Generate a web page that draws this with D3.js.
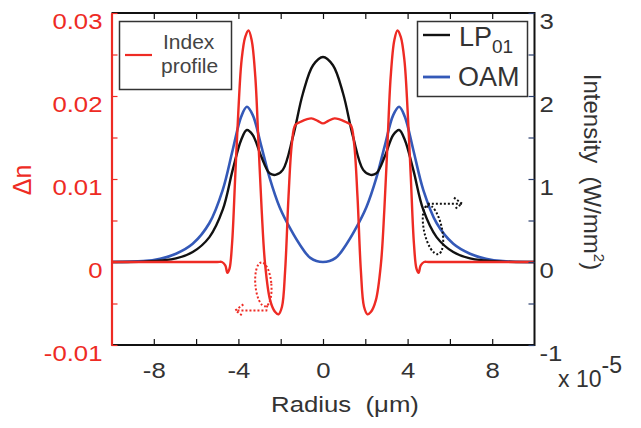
<html>
  <head>
    <meta charset="utf-8" />
    <script src="https://d3js.org/d3.v7.min.js"></script>
    <style>
      body { margin: 0; background: #fff; }
      text { font-family: "Liberation Sans", Arial, sans-serif; white-space: pre; }
    </style>
  </head>
  <body>
    <svg id="chart" width="641" height="428"></svg>
    <script>
      // index profile (left axis)
      var indexR = [-10, -5.0, -4.78, -4.62, -4.52, -4.42, -4.3, -4.15, -4.0, -3.85, -3.68, -3.52, -3.37, -3.2, -3.05, -2.9, -2.74, -2.5, -2.27, -2.1, -1.94, -1.79, -1.63, -1.47, -1.31, -1.05, -0.55, -0.25, 0,
                    0.25, 0.55, 1.05, 1.31, 1.47, 1.63, 1.79, 1.94, 2.1, 2.27, 2.5, 2.74, 2.9, 3.05, 3.2, 3.37, 3.52, 3.68, 3.85, 4.0, 4.15, 4.3, 4.42, 4.52, 4.62, 4.78, 5.0, 10];
      var indexDn = [0, 0, 0, -0.0004, -0.0013, -0.0008, 0.0022, 0.0103, 0.0183, 0.0243, 0.0271, 0.0279, 0.0267, 0.0223, 0.0143, 0.0063, -0.0002, -0.0046, -0.006, -0.0063, -0.0054, -0.001, 0.0079, 0.0143, 0.0165, 0.0169, 0.0173, 0.017, 0.0167,
                     0.017, 0.0173, 0.0169, 0.0165, 0.0143, 0.0079, -0.001, -0.0054, -0.0063, -0.006, -0.0046, -0.0002, 0.0063, 0.0143, 0.0223, 0.0267, 0.0279, 0.0271, 0.0243, 0.0183, 0.0103, 0.0022, -0.0008, -0.0013, -0.0004, 0, 0, 0];

      // LP01 intensity (right axis, x 1e-5)
      var lpR = [-10, -8.5, -6.95, -6.16, -5.37, -4.74, -4.27, -3.87, -3.6, -3.32, -2.92, -2.53, -2.25, -1.9, -1.42, -0.95, -0.47, 0,
                 0.47, 0.95, 1.42, 1.9, 2.25, 2.53, 2.92, 3.32, 3.6, 3.87, 4.27, 4.74, 5.37, 6.16, 6.95, 8.5, 10];
      var lpI = [0, 0.005, 0.044, 0.12, 0.3, 0.63, 1.11, 1.47, 1.59, 1.53, 1.27, 1.07, 1.05, 1.11, 1.51, 2.03, 2.37, 2.47,
                 2.37, 2.03, 1.51, 1.11, 1.05, 1.07, 1.27, 1.53, 1.59, 1.47, 1.11, 0.63, 0.3, 0.12, 0.044, 0.005, 0];

      // OAM intensity
      var oamR = [-10, -8.5, -7.7, -6.95, -6.16, -5.37, -4.74, -4.27, -3.87, -3.6, -3.32, -2.92, -2.53, -2.05, -1.5, -1.07, -0.6, 0,
                  0.6, 1.07, 1.5, 2.05, 2.53, 2.92, 3.32, 3.6, 3.87, 4.27, 4.74, 5.37, 6.16, 6.95, 7.7, 8.5, 10];
      var oamI = [0, 0.01, 0.04, 0.1, 0.22, 0.47, 0.87, 1.35, 1.75, 1.87, 1.77, 1.4, 1.02, 0.66, 0.38, 0.2, 0.05, 0,
                  0.05, 0.2, 0.38, 0.66, 1.02, 1.4, 1.77, 1.87, 1.75, 1.35, 0.87, 0.47, 0.22, 0.1, 0.04, 0.01, 0];

      var xTicks = [-8, -4, 0, 4, 8];
      var xMinor = [-8, -6, -4, -2, 0, 2, 4, 6, 8];
      var dnTicks = [-0.01, 0, 0.01, 0.02, 0.03];
      var dnMinor = [-0.005, 0.005, 0.015, 0.025];
      var intTicks = [-1, 0, 1, 2, 3];
      var intMinor = [-0.5, 0.5, 1.5, 2.5];

      var red = "#ee2b24", blue = "#3459b8", black = "#111";
      var sx = 1.12; // glyphs in the picture look a bit wide

      var svg = d3.select("#chart");
      var x = d3.scaleLinear().domain([-10, 10]).range([111.5, 534.5]);
      var yL = d3.scaleLinear().domain([-0.01, 0.03]).range([345, 13]);
      var yR = d3.scaleLinear().domain([-1, 3]).range([345, 13]);

      function widen(sel, dx) {
        sel.attr("x", 0).attr("transform", "translate(" + dx + ",0) scale(" + sx + ",1)");
      }

      // curves
      var lineL = d3.line().x((d) => x(d[0])).y((d) => yL(d[1])).curve(d3.curveCatmullRom.alpha(0.5));
      var lineR = d3.line().x((d) => x(d[0])).y((d) => yR(d[1])).curve(d3.curveCatmullRom.alpha(0.5));

      svg.append("path").datum(d3.zip(oamR, oamI)).attr("d", lineR)
        .attr("fill", "none").attr("stroke", blue).attr("stroke-width", 2.6);
      svg.append("path").datum(d3.zip(lpR, lpI)).attr("d", lineR)
        .attr("fill", "none").attr("stroke", black).attr("stroke-width", 2.4);
      svg.append("path").datum(d3.zip(indexR, indexDn)).attr("d", lineL)
        .attr("fill", "none").attr("stroke", red).attr("stroke-width", 2.4);

      // frame
      var x0 = x.range()[0], x1 = x.range()[1], y0 = yL.range()[1], y1 = yL.range()[0];
      svg.append("path").attr("d", "M" + x0 + "," + y0 + "H" + x1 + "V" + y1 + "H" + x0)
        .attr("fill", "none").attr("stroke", black).attr("stroke-width", 2);

      // bottom axis
      var gB = svg.append("g").attr("transform", "translate(0," + y1 + ")")
        .call(d3.axisBottom(x).tickValues(xMinor).tickSizeInner(-6).tickSizeOuter(0).tickFormat(""));
      gB.select(".domain").remove();
      gB.selectAll("line").attr("stroke", black).attr("stroke-width", 1.2);
      var gBl = svg.append("g").attr("transform", "translate(0," + y1 + ")")
        .call(d3.axisBottom(x).tickValues(xTicks).tickSize(0).tickPadding(0).tickFormat((d) => String(d)));
      gBl.select(".domain").remove();
      gBl.selectAll("text").attr("font-size", 23).attr("fill", "#333").attr("dy", 0).attr("y", 33)
        .each(function () { widen(d3.select(this), 0); });

      // top ticks
      var gT = svg.append("g").attr("transform", "translate(0," + y0 + ")")
        .call(d3.axisTop(x).tickValues(xMinor).tickSizeInner(-6).tickSizeOuter(0).tickFormat(""));
      gT.select(".domain").remove();
      gT.selectAll("line").attr("stroke", black).attr("stroke-width", 1.2);

      // left axis (red)
      var gL = svg.append("g").attr("transform", "translate(" + x0 + ",0)")
        .call(d3.axisLeft(yL).tickValues(dnTicks.concat(dnMinor)).tickSizeInner(-6).tickSizeOuter(0)
          .tickPadding(9).tickFormat((d) => dnTicks.indexOf(d) >= 0 ? String(d) : ""));
      gL.select(".domain").attr("stroke", red).attr("stroke-width", 2.2);
      gL.selectAll("line").attr("stroke", red).attr("stroke-width", 1.2);
      gL.selectAll("text").attr("font-size", 23).attr("fill", red).attr("dy", 15)
        .each(function () { widen(d3.select(this), -9); });

      // right axis
      var gR = svg.append("g").attr("transform", "translate(" + x1 + ",0)")
        .call(d3.axisRight(yR).tickValues(intTicks.concat(intMinor)).tickSizeInner(-6).tickSizeOuter(0)
          .tickPadding(5).tickFormat((d) => intTicks.indexOf(d) >= 0 ? String(d) : ""));
      gR.select(".domain").remove();
      gR.selectAll("line").attr("stroke", "#2b3f6e").attr("stroke-width", 1.2);
      gR.selectAll("text").attr("font-size", 23).attr("fill", "#333").attr("dy", 15)
        .each(function () { widen(d3.select(this), 5); });

      // axis titles
      widen(svg.append("text").attr("y", 412).attr("text-anchor", "middle")
        .attr("font-size", 23).attr("fill", "#333").text("Radius  (\u03bcm)"), 345);

      svg.append("text").attr("transform", "translate(31,180) rotate(-90)")
        .attr("text-anchor", "middle").attr("font-size", 25).attr("fill", red).text("\u0394n");

      var it = svg.append("text").attr("transform", "translate(584,172) rotate(90)")
        .attr("text-anchor", "middle").attr("font-size", 24).attr("fill", "#333");
      it.append("tspan").text("Intensity  (W/mm");
      it.append("tspan").attr("font-size", 15).attr("dy", -10).text("2");
      it.append("tspan").attr("dy", 10).text(")");

      var ex = svg.append("text").attr("x", 558).attr("y", 387).attr("font-size", 23).attr("fill", "#333");
      ex.append("tspan").text("x 10");
      ex.append("tspan").attr("dy", -14).text("-5");

      // legends
      var legL = svg.append("g");
      legL.append("rect").attr("x", 119.5).attr("y", 21.5).attr("width", 112).attr("height", 68)
        .attr("fill", "#fff").attr("stroke", "#333").attr("stroke-width", 1.5);
      legL.append("line").attr("x1", 125).attr("x2", 152).attr("y1", 55).attr("y2", 55)
        .attr("stroke", red).attr("stroke-width", 2.2);
      legL.append("text").attr("x", 163).attr("y", 49).attr("font-size", 21).attr("fill", "#444").text("Index");
      legL.append("text").attr("x", 161).attr("y", 73).attr("font-size", 21).attr("fill", "#444").text("profile");

      var legR = svg.append("g");
      legR.append("rect").attr("x", 417.5).attr("y", 21.5).attr("width", 110).attr("height", 75)
        .attr("fill", "#fff").attr("stroke", "#333").attr("stroke-width", 1.5);
      legR.append("line").attr("x1", 423).attr("x2", 450).attr("y1", 35).attr("y2", 35)
        .attr("stroke", black).attr("stroke-width", 2.4);
      legR.append("line").attr("x1", 423).attr("x2", 450).attr("y1", 77).attr("y2", 77)
        .attr("stroke", blue).attr("stroke-width", 2.8);
      var lp = legR.append("text").attr("x", 459).attr("y", 46).attr("font-size", 27).attr("fill", "#333");
      lp.append("tspan").text("LP");
      lp.append("tspan").attr("font-size", 19).attr("dy", 7).text("01");
      legR.append("text").attr("x", 458).attr("y", 86).attr("font-size", 27).attr("fill", "#333").text("OAM");

      // dotted loops with arrows
      var rx = x(-2.82), ry = yL(-0.0027);
      var ann = svg.append("g").attr("fill", "none").attr("stroke-width", 2).attr("stroke-dasharray", "2,2");
      ann.append("ellipse").attr("cx", rx).attr("cy", ry).attr("rx", 8).attr("ry", 22)
        .attr("transform", "rotate(-5," + rx + "," + ry + ")").attr("stroke", red);
      ann.append("path").attr("d", "M" + (rx + 4) + "," + (ry + 21) + "L" + (rx + 3) + "," + (ry + 26) + "H" + (rx - 28))
        .attr("stroke", red);
      ann.append("path").attr("d", "M" + (rx - 20) + "," + (ry + 20) + "L" + (rx - 28) + "," + (ry + 26) + "L" + (rx - 20) + "," + (ry + 32))
        .attr("stroke", red).attr("stroke-dasharray", null);

      var bx = x(5.2), by = yR(0.39);
      ann.append("ellipse").attr("cx", bx).attr("cy", by).attr("rx", 9).attr("ry", 25)
        .attr("transform", "rotate(-12," + bx + "," + by + ")").attr("stroke", black);
      ann.append("path").attr("d", "M" + (bx - 6) + "," + (by - 22) + "L" + (bx - 5) + "," + (by - 26) + "H" + (bx + 29))
        .attr("stroke", black);
      ann.append("path").attr("d", "M" + (bx + 21) + "," + (by - 32) + "L" + (bx + 29) + "," + (by - 26) + "L" + (bx + 21) + "," + (by - 20))
        .attr("stroke", black).attr("stroke-dasharray", null);
    </script>
  </body>
</html>
